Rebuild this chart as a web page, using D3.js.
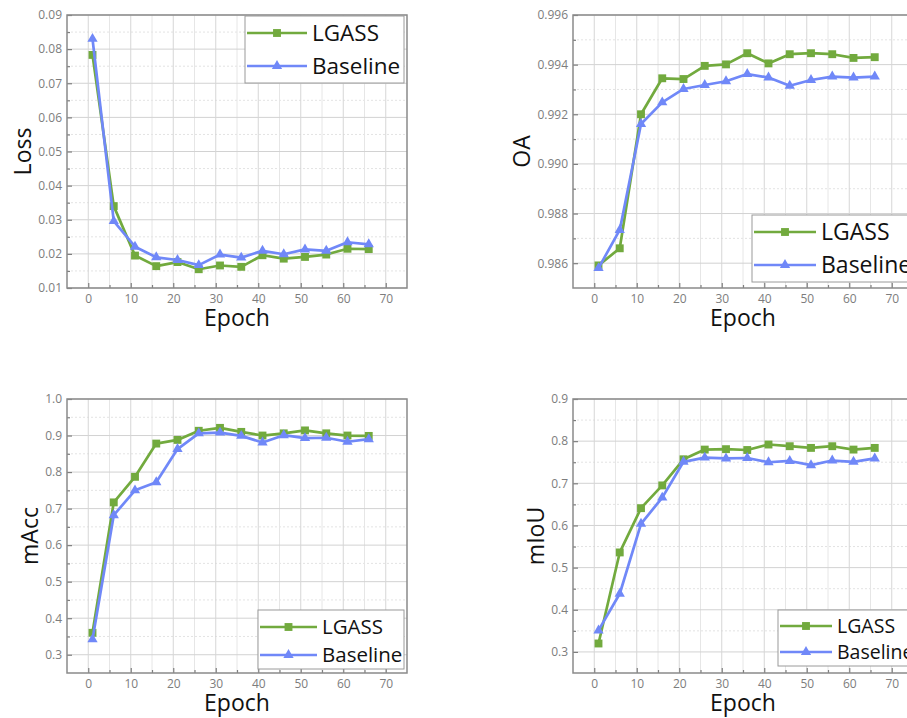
<!DOCTYPE html>
<html>
<head>
<meta charset="utf-8">
<script src="https://cdn.jsdelivr.net/npm/d3@7"></script>
<style>
  body { margin: 0; background: #fff; }
  text { font-family: "Open Sans", "Noto Sans", sans-serif; }
</style>
</head>
<body>
<div id="chart"></div>
<script>
// epochs where the metrics were logged
const epochs = [1, 6, 11, 16, 21, 26, 31, 36, 41, 46, 51, 56, 61, 66];
const epochTicks = [0, 10, 20, 30, 40, 50, 60, 70];

const lossLGASS    = [0.0783, 0.0340, 0.0195, 0.0164, 0.0176, 0.0155, 0.0166, 0.0162, 0.0196, 0.0186, 0.0191, 0.0198, 0.0215, 0.0214];
const lossBaseline = [0.0830, 0.0296, 0.0221, 0.0190, 0.0182, 0.0167, 0.0198, 0.0189, 0.0209, 0.0199, 0.0213, 0.0209, 0.0234, 0.0228];
const lossTicks = [0.01, 0.02, 0.03, 0.04, 0.05, 0.06, 0.07, 0.08, 0.09];

const oaLGASS    = [0.98591, 0.98660, 0.99200, 0.99345, 0.99342, 0.99395, 0.99401, 0.99446, 0.99405, 0.99442, 0.99446, 0.99442, 0.99427, 0.99430];
const oaBaseline = [0.98580, 0.98734, 0.99161, 0.99248, 0.99302, 0.99318, 0.99333, 0.99362, 0.99348, 0.99315, 0.99338, 0.99352, 0.99348, 0.99352];
const oaTicks = [0.986, 0.988, 0.990, 0.992, 0.994, 0.996];

const maccLGASS    = [0.360, 0.717, 0.787, 0.878, 0.888, 0.913, 0.921, 0.910, 0.900, 0.906, 0.914, 0.906, 0.900, 0.899];
const maccBaseline = [0.342, 0.682, 0.750, 0.772, 0.863, 0.906, 0.908, 0.899, 0.881, 0.901, 0.893, 0.894, 0.883, 0.890];
const maccTicks = [0.3, 0.4, 0.5, 0.6, 0.7, 0.8, 0.9, 1.0];

const miouLGASS    = [0.320, 0.536, 0.641, 0.695, 0.757, 0.780, 0.781, 0.779, 0.792, 0.788, 0.784, 0.788, 0.780, 0.784];
const miouBaseline = [0.351, 0.438, 0.604, 0.666, 0.751, 0.761, 0.759, 0.760, 0.750, 0.753, 0.743, 0.754, 0.751, 0.759];
const miouTicks = [0.3, 0.4, 0.5, 0.6, 0.7, 0.8, 0.9];

const seriesNames = ["LGASS", "Baseline"];
const colors = ["#72aa3e", "#7088f8"];
const shapes = [d3.symbolSquare, d3.symbolTriangle];
const shapeSize = [62, 46];

const width = 907, height = 718;

const panels = [
  { label: "Loss", left: 67, top: 15, w: 340, h: 273, yDomain: [0.01, 0.09], yTicks: lossTicks, fmt: ".2f",
    data: [lossLGASS, lossBaseline],
    legend: { x: 245, y: 16, w: 159, h: 67, font: 22.5, rows: [17, 50], line: 60 } },
  { label: "OA", left: 573, top: 15, w: 340, h: 273, yDomain: [0.985, 0.996], yTicks: oaTicks, fmt: ".3f",
    data: [oaLGASS, oaBaseline],
    legend: { x: 752, y: 215, w: 159, h: 67, font: 23, rows: [17, 50], line: 62 } },
  { label: "mAcc", left: 67, top: 399, w: 340, h: 274, yDomain: [0.25, 1.0], yTicks: maccTicks, fmt: ".1f",
    data: [maccLGASS, maccBaseline],
    legend: { x: 258, y: 610, w: 146, h: 59, font: 20.5, rows: [17, 45], line: 57 } },
  { label: "mIoU", left: 573, top: 399, w: 340, h: 274, yDomain: [0.25, 0.9], yTicks: miouTicks, fmt: ".1f",
    data: [miouLGASS, miouBaseline],
    legend: { x: 778, y: 610, w: 140, h: 56, font: 19.5, rows: [16, 42], line: 52 } }
];

const svg = d3.select("#chart").append("svg")
    .attr("width", width)
    .attr("height", height)
    .style("display", "block");

svg.append("rect").attr("width", width).attr("height", height).attr("fill", "#fff");

panels.forEach(function(p) {
  let g = svg.append("g").attr("transform", `translate(${p.left}, ${p.top})`);

  let x = d3.scaleLinear().domain([-5, 75]).range([0, p.w]);
  let y = d3.scaleLinear().domain(p.yDomain).range([p.h, 0]);

  // half-step positions between major ticks
  let yMinor = p.yTicks.slice(1).map((t, i) => (t + p.yTicks[i]) / 2);
  let xMinor = epochTicks.slice(1).map((t, i) => (t + epochTicks[i]) / 2);

  // grid
  let grid = g.append("g");
  grid.selectAll(".hmin").data(yMinor).enter().append("line")
      .attr("x1", 0).attr("x2", p.w)
      .attr("y1", d => y(d)).attr("y2", d => y(d))
      .attr("stroke", "#e3e3e3").attr("stroke-dasharray", "2,2");
  grid.selectAll(".vmin").data(xMinor).enter().append("line")
      .attr("y1", 0).attr("y2", p.h)
      .attr("x1", d => x(d)).attr("x2", d => x(d))
      .attr("stroke", "#e6e6e6");
  grid.selectAll(".hmaj").data(p.yTicks).enter().append("line")
      .attr("x1", 0).attr("x2", p.w)
      .attr("y1", d => y(d)).attr("y2", d => y(d))
      .attr("stroke", "#d2d2d2");
  grid.selectAll(".vmaj").data(epochTicks).enter().append("line")
      .attr("y1", 0).attr("y2", p.h)
      .attr("x1", d => x(d)).attr("x2", d => x(d))
      .attr("stroke", "#d6d6d6");

  // axes (ticks pointing inward)
  let yAxis = g.append("g")
      .call(d3.axisLeft(y).tickValues(p.yTicks).tickFormat(d3.format(p.fmt)).tickSize(-5).tickPadding(5));
  g.append("g")
      .call(d3.axisLeft(y).tickValues(yMinor).tickFormat("").tickSize(-3));
  g.append("g")
      .attr("transform", `translate(0, ${p.h})`)
      .call(d3.axisBottom(x).tickValues(epochTicks).tickSize(-5).tickPadding(6));
  g.append("g")
      .attr("transform", `translate(0, ${p.h})`)
      .call(d3.axisBottom(x).tickValues(xMinor).tickFormat("").tickSize(-3));

  g.selectAll(".domain").remove();
  g.selectAll(".tick line").attr("stroke", "#7f7f7f").attr("stroke-width", 1.2);
  g.selectAll(".tick text")
      .style("font-family", '"Open Sans", sans-serif')
      .style("font-size", "12px")
      .attr("fill", "#7d7d7d");

  // frame
  g.append("rect")
      .attr("width", p.w).attr("height", p.h)
      .attr("fill", "none")
      .attr("stroke", "#8a8a8a")
      .attr("stroke-width", 1.5);

  // series
  p.data.forEach(function(vals, si) {
    let pts = epochs.map((e, i) => [e, vals[i]]);
    g.append("path")
        .datum(pts)
        .attr("fill", "none")
        .attr("stroke", colors[si])
        .attr("stroke-width", 2.7)
        .attr("stroke-linejoin", "round")
        .attr("d", d3.line().x(d => x(d[0])).y(d => y(d[1])));
    g.append("g").selectAll("path")
        .data(pts)
        .enter()
        .append("path")
        .attr("transform", d => `translate(${x(d[0])}, ${y(d[1])})`)
        .attr("d", d3.symbol().type(shapes[si]).size(shapeSize[si]))
        .attr("fill", colors[si]);
  });

  // axis titles
  let bb = yAxis.node().getBBox();
  g.append("text")
      .attr("transform", `translate(${bb.x - 7}, ${p.h / 2}) rotate(-90)`)
      .style("text-anchor", "middle")
      .style("font-size", "23px")
      .attr("fill", "#111")
      .text(p.label);

  g.append("text")
      .attr("x", p.w / 2)
      .attr("y", p.h + 38)
      .style("text-anchor", "middle")
      .style("font-size", "23px")
      .attr("fill", "#111")
      .text("Epoch");

  // legend
  let L = p.legend;
  let lg = svg.append("g").attr("transform", `translate(${L.x}, ${L.y})`);
  lg.append("rect")
      .attr("width", L.w).attr("height", L.h)
      .attr("fill", "#fff")
      .attr("stroke", "#9a9a9a")
      .attr("stroke-width", 1);
  seriesNames.forEach(function(name, si) {
    let ry = L.rows[si];
    lg.append("line")
        .attr("x1", 2).attr("x2", 2 + L.line)
        .attr("y1", ry).attr("y2", ry)
        .attr("stroke", colors[si])
        .attr("stroke-width", 2.7);
    lg.append("path")
        .attr("transform", `translate(${2 + L.line / 2}, ${ry})`)
        .attr("d", d3.symbol().type(shapes[si]).size(shapeSize[si]))
        .attr("fill", colors[si]);
    lg.append("text")
        .attr("x", L.line + 7)
        .attr("y", ry)
        .attr("dy", "0.36em")
        .style("font-size", L.font + "px")
        .attr("fill", "#111")
        .text(name);
  });
});
</script>
</body>
</html>
